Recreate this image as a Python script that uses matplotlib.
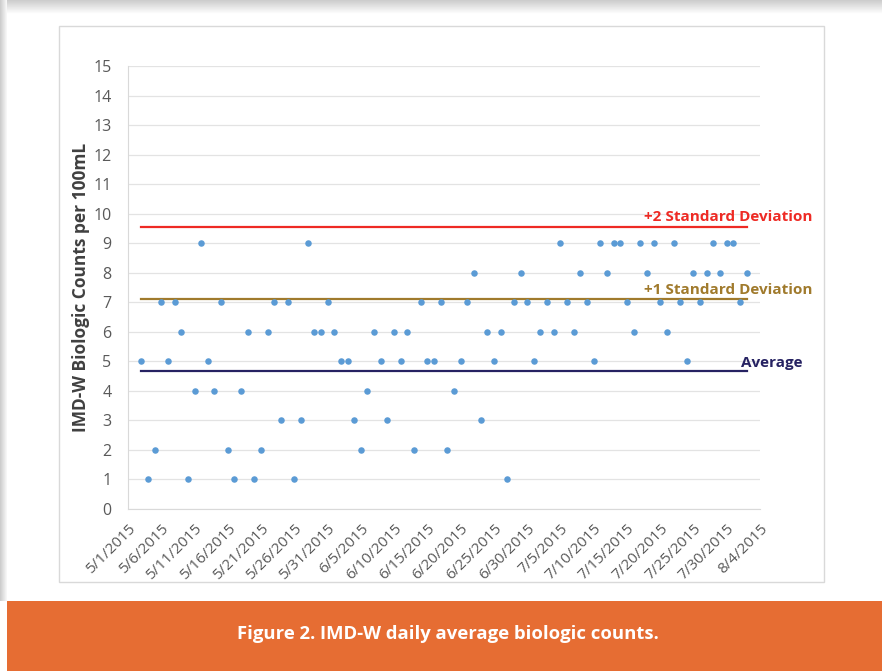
import numpy as np
import pandas as pd
import matplotlib
matplotlib.use("Agg")
import matplotlib.pyplot as plt
import matplotlib.dates as mdates
from matplotlib.patches import Rectangle

# daily average counts, 5/3/2015 .. 8/2/2015
dates = pd.date_range("2015-05-03", "2015-08-02", freq="D")
counts = [5, 1, 2, 7, 5, 7, 6, 1, 4, 9, 5, 4, 7, 2, 1, 4, 6, 1, 2, 6, 7, 3, 7,
          1, 3, 9, 6, 6, 7, 6, 5, 5, 3, 2, 4, 6, 5, 3, 6, 5, 6, 2, 7, 5, 5, 7,
          2, 4, 5, 7, 8, 3, 6, 5, 6, 1, 7, 8, 7, 5, 6, 7, 6, 9, 7, 6, 8, 7,
          5, 9, 8, 9, 9, 7, 6, 9, 8, 9, 7, 6, 9, 7, 5, 8, 7, 8, 9, 8, 9, 9, 7, 8]
average = 4.68
sd1 = 7.12
sd2 = 9.54
tick_dates = pd.date_range("2015-05-01", "2015-08-04", freq="5D")
tick_labels = [f"{d.month}/{d.day}/{d.year}" for d in tick_dates]
caption = "Figure 2. IMD-W daily average biologic counts."

W, H = 882, 671
fig = plt.figure(figsize=(W / 100, H / 100), dpi=100)
fig.patch.set_facecolor("white")

def px(x0, y0, x1, y1):
    return [x0 / W, 1 - y1 / H, (x1 - x0) / W, (y1 - y0) / H]

# page shadow at top and left
sh = fig.add_axes(px(0, 0, W, 14))
sh.imshow(np.linspace(0.80, 1.0, 30).reshape(-1, 1), cmap="gray", vmin=0, vmax=1,
          aspect="auto", extent=[0, 1, 0, 1])
sh.axis("off")
sl = fig.add_axes(px(0, 0, 7, 601))
sl.imshow(np.linspace(0.80, 0.97, 10).reshape(1, -1), cmap="gray", vmin=0, vmax=1,
          aspect="auto", extent=[0, 1, 0, 1])
sl.axis("off")

# chart area border
fig.patches.append(Rectangle((59 / W, 1 - 582 / H), (824 - 59) / W, (582 - 26) / H,
                             transform=fig.transFigure, fill=False,
                             edgecolor="#d9d9d9", linewidth=1.0))

# orange caption band
fig.patches.append(Rectangle((7 / W, 0), 1, 70 / H, transform=fig.transFigure,
                             facecolor="#e66d33", edgecolor="none"))
fig.text(448 / W, 1 - 634 / H, caption, ha="center", va="center", color="white",
         fontsize=13.3, fontweight="bold", family=["Liberation Sans Narrow", "Open Sans"])

ax = fig.add_axes(px(128, 66, 760, 509))
ax.scatter(dates, counts, s=22, color="#5b9bd5", zorder=3, linewidths=0)

x0, x1 = dates[0], dates[-1]
ax.plot([x0, x1], [sd2, sd2], color="#ee2a24", lw=1.6, zorder=2)
ax.plot([x0, x1], [sd1, sd1], color="#a07a2c", lw=1.6, zorder=2)
ax.plot([x0, x1], [average, average], color="#262262", lw=1.6, zorder=2)

lab_font = dict(fontsize=11, fontweight="bold", family="Open Sans",
                annotation_clip=False, textcoords="offset pixels")
ax.annotate("+2 Standard Deviation", (x1, sd2), xytext=(66, 10), ha="right", va="center",
            color="#ee2a24", **lab_font)
ax.annotate("+1 Standard Deviation", (x1, sd1), xytext=(66, 9), ha="right", va="center",
            color="#a07a2c", **lab_font)
ax.annotate("Average", (x1, average), xytext=(-6, 8), ha="left", va="center",
            color="#262262", **lab_font)

ax.set_xlim(tick_dates[0], tick_dates[-1])
ax.set_ylim(0, 15)
ax.set_yticks(range(0, 16))
ax.set_xticks(tick_dates)
ax.set_xticklabels(tick_labels, rotation=45, ha="right", rotation_mode="anchor",
                   fontsize=11, color="#595959", family="Open Sans")
for t in ax.get_yticklabels():
    t.set_fontsize(11.5)
    t.set_color("#595959")
    t.set_family("Open Sans")
ax.tick_params(axis="y", length=0, pad=12)
ax.tick_params(axis="x", length=0, pad=9)
ax.grid(axis="y", color="#e3e3e3", lw=0.9)
ax.set_axisbelow(True)
for s in ["top", "right"]:
    ax.spines[s].set_visible(False)
ax.spines["left"].set_color("#d9d9d9")
ax.spines["bottom"].set_color("#d9d9d9")

ax.set_ylabel("IMD-W Biologic Counts per 100mL", fontsize=12.5, fontweight="bold",
              color="#404040", family="Open Sans", labelpad=2)

fig.savefig("out.png", dpi=100)
